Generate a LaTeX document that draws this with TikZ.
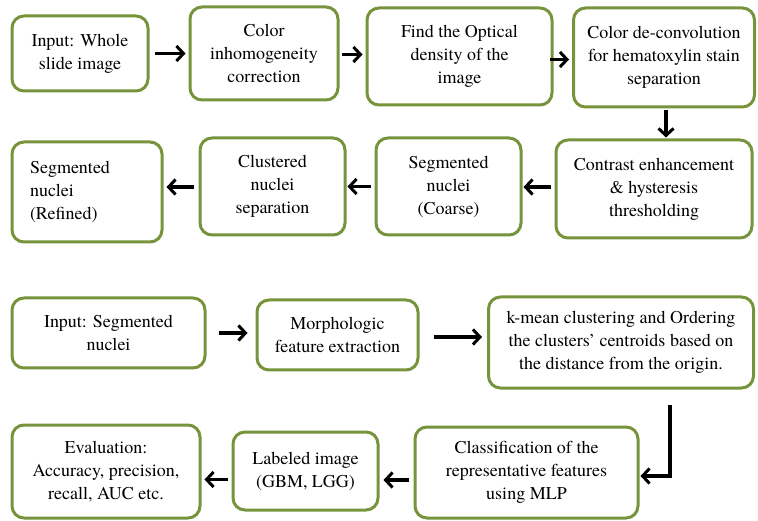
\documentclass[tikz,border=0pt]{standalone}
\usepackage{fontspec}
\setmainfont{texgyretermes-regular.otf}
\usetikzlibrary{arrows.meta}
\definecolor{olive}{HTML}{77933C}
\tikzset{
  box/.style={draw=olive, line width=3pt, rounded corners=12pt, fill=white,
    align=center, inner sep=2pt, font=\rmfamily\fontsize{18}{23}\selectfont},
  conn/.style={draw=black, line width=3.2pt,
    -{Straight Barb[length=7pt,width=15pt,line width=3pt]}, shorten <=5pt, shorten >=3pt},
}
\begin{document}
\begin{tikzpicture}[x=1pt,y=-1pt]
\useasboundingbox (0,0) rectangle (758,521);
% row 1
\node[box, minimum width=136, minimum height=75] (B1) at (80,53.5) {Input: Whole\\slide image};
\node[box, minimum width=148, minimum height=93] (B2) at (264,53.5) {Color\\inhomogeneity\\correction};
\node[box, minimum width=185, minimum height=97] (B3) at (459.5,56.5) {Find the Optical\\density of the\\image};
\node[box, minimum width=181, minimum height=99] (B4) at (664,57.5) {Color de-convolution\\for hematoxylin stain\\separation};
% row 2
\node[box, minimum width=196, minimum height=98] (B5) at (654,189) {Contrast enhancement\\\& hysteresis\\thresholding};
\node[box, minimum width=145, minimum height=97] (B6) at (448.5,186.5) {Segmented\\nuclei\\(Coarse)};
\node[box, minimum width=145, minimum height=97] (B7) at (272.5,186.5) {Clustered\\nuclei\\separation};
\node[box, minimum width=150, minimum height=100, align=left, text width=130, inner xsep=0pt, xshift=0pt] (B8) at (87,192) {\hspace*{8pt}Segmented\\\hspace*{8pt}nuclei\\\hspace*{8pt}(Refined)};
% row 3
\node[box, minimum width=193, minimum height=70] (C1) at (108.5,333) {Input: Segmented\\nuclei};
\node[box, minimum width=161, minimum height=70] (C2) at (337.5,335) {Morphologic\\feature extraction};
\node[box, minimum width=265, minimum height=91] (C3) at (621,342.5) {k-mean clustering and Ordering\\the clusters’ centroids based on\\the distance from the origin.};
% row 4
\node[box, minimum width=223, minimum height=91] (D1) at (526.5,472.5) {Classification of the\\representative features\\using MLP};
\node[box, minimum width=145, minimum height=78] (D2) at (305.5,471) {Labeled image\\(GBM, LGG)};
\node[box, minimum width=188, minimum height=93] (D3) at (106,471.5) {Evaluation:\\Accuracy, precision,\\recall, AUC etc.};
\coordinate (E) at (670,405);
% connectors
\draw[conn] (B1.east) -- (B1.east -| B2.west);
\draw[conn, shorten <=2pt] ([yshift=-1pt]B2.east) -- ([yshift=-1pt]B2.east -| B3.west);
\draw[conn, shorten <=-4pt] ([yshift=-3pt]B3.east) -- ([yshift=-3pt]B3.east -| B4.west);
\draw[conn, shorten <=2pt, shorten >=1pt] ([xshift=2pt]B4.south) -- ([xshift=2pt]B4.south |- B5.north);
\draw[conn, shorten <=4pt, shorten >=1pt] ([yshift=2pt]B5.west) -- ([yshift=2pt]B5.west -| B6.east);
\draw[conn, shorten <=4pt, shorten >=1pt] (B6.west) -- (B6.west -| B7.east);
\draw[conn, shorten <=5pt, shorten >=3pt] ([yshift=-0.5pt]B7.west) -- ([yshift=-0.5pt]B7.west -| B8.east);
\draw[conn, shorten <=12pt, shorten >=8pt] (C1.east) -- (C1.east -| C2.west);
\draw[conn, shorten <=14pt, shorten >=5pt] ([yshift=-2pt]C2.east) -- ([yshift=-2pt]C2.east -| C3.west);
\draw[conn, rounded corners=0pt, shorten <=0pt, shorten >=1pt] (E) |- ([yshift=-3.5pt]D1.east);
\draw[conn, shorten <=5pt, shorten >=4pt] ([yshift=-7.5pt]D1.west) -- ([yshift=-7.5pt]D1.west -| D2.east);
\draw[conn, shorten <=4pt, shorten >=3pt] ([yshift=-8.5pt]D2.west) -- ([yshift=-8.5pt]D2.west -| D3.east);
\end{tikzpicture}
\end{document}
